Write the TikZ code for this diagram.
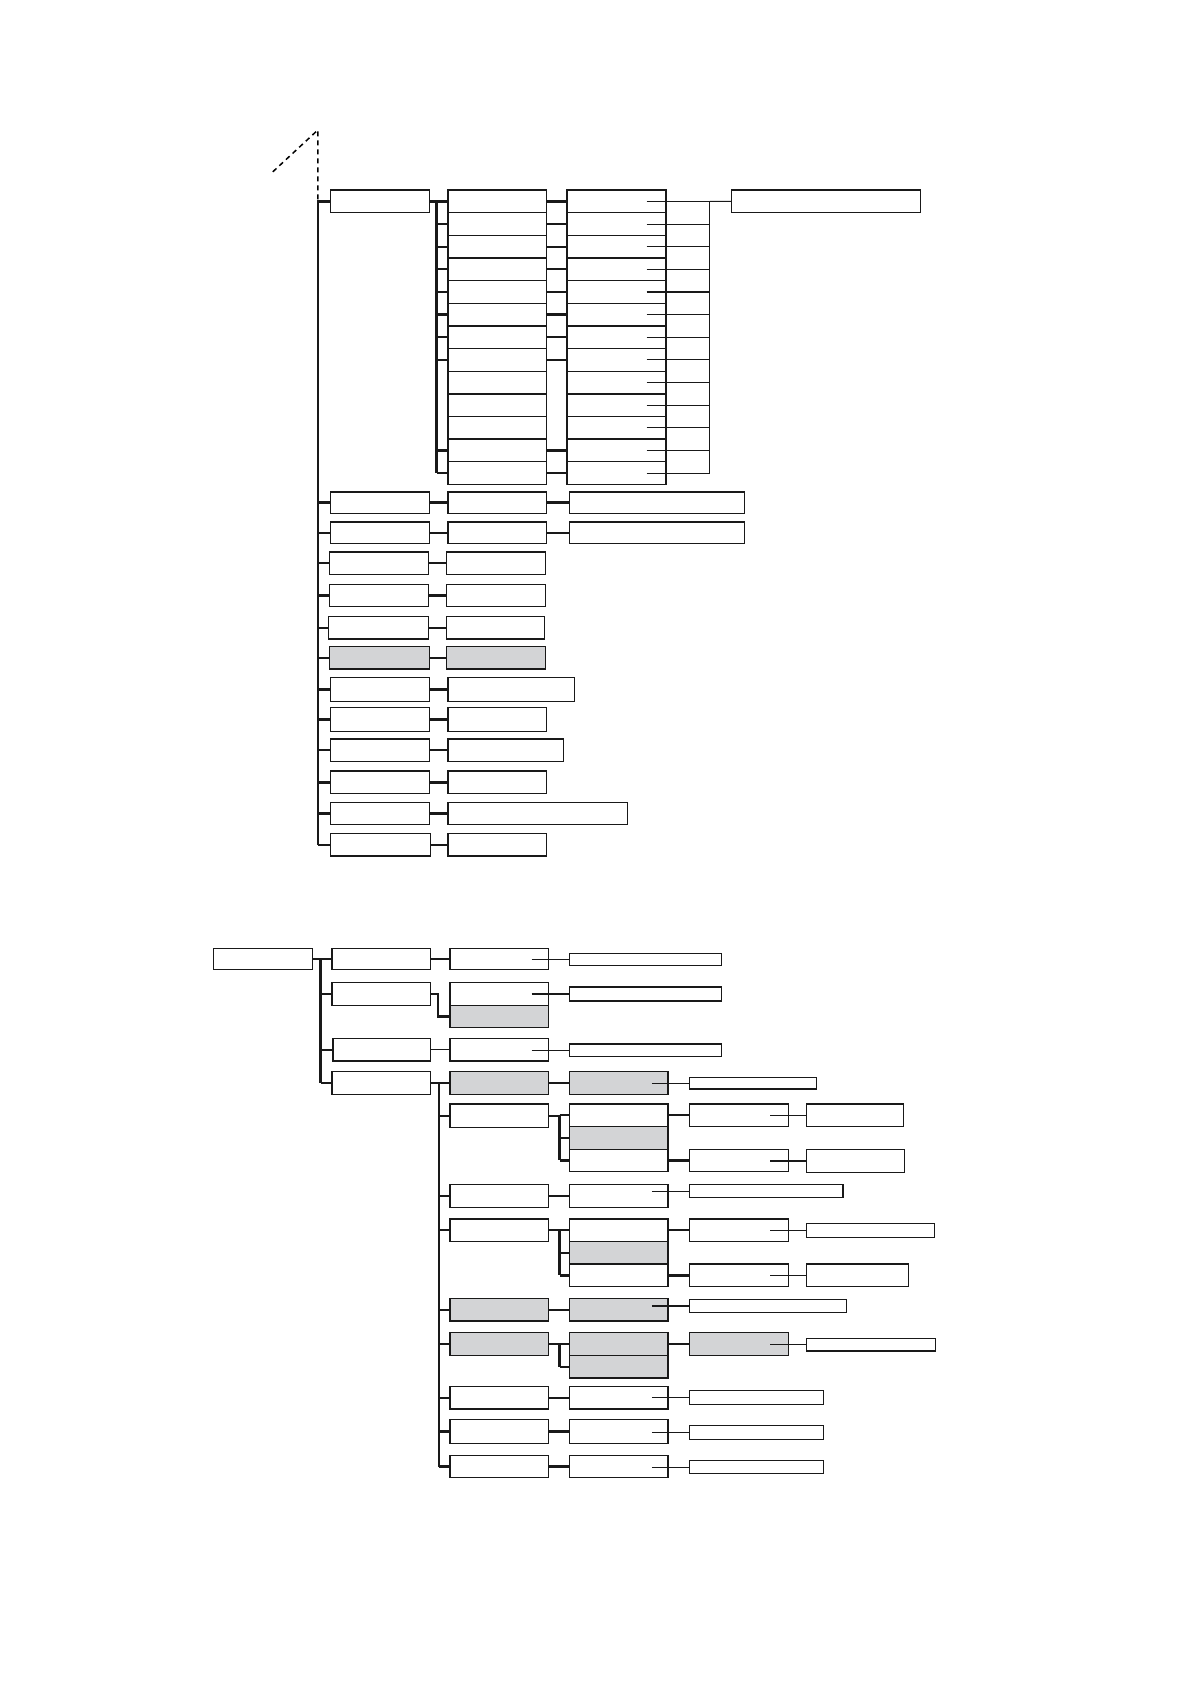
\documentclass[tikz,border=0pt]{standalone}
\usetikzlibrary{fit}
\definecolor{gfill}{RGB}{211,212,214}
\newcommand{\bx}[6][box]{\node[#1,fit={(#3,#4) (#5,#6)}] (#2) {};}
\begin{document}
\begin{tikzpicture}[x=1.074pt,y=-1.074pt,
 box/.style={draw=black!90,line width=1.3pt,inner sep=0pt,outer sep=0pt,fill=white},
 gbox/.style={box,fill=gfill},
 conn/.style={draw=black!90,line width=2.3pt},
 thinl/.style={draw=black!90,line width=1.1pt},
 dashline/.style={draw=black,line width=1.5pt,dash pattern=on 5pt off 4pt}]
\useasboundingbox[fill=white] (0,0) rectangle (1108,1568);

% ---------- top tree ----------
\bx{a1}{308}{177}{400}{198}
\foreach \i in {1,...,13}{
  \pgfmathsetmacro{\ta}{177+21.08*(\i-1)}
  \pgfmathsetmacro{\tb}{177+21.08*\i}
  \bx{c2r\i}{417}{\ta}{509}{\tb}
  \bx{c3r\i}{528}{\ta}{620}{\tb}
}
\bx{long}{681}{177}{857}{198}

\bx{ba1}{308}{458}{400}{478} \bx{bb1}{417}{458}{509}{478} \bx{bc1}{530}{458}{693}{478}
\bx{ba2}{308}{486}{400}{506} \bx{bb2}{417}{486}{509}{506} \bx{bc2}{530}{486}{693}{506}
\bx{ba3}{307}{514}{399}{535} \bx{bb3}{416}{514}{508}{535}
\bx{ba4}{307}{544}{399}{565} \bx{bb4}{416}{544}{508}{565}
\bx{ba5}{306}{574}{399}{595} \bx{bb5}{416}{574}{507}{595}
\bx[gbox]{ba6}{307}{602}{400}{623} \bx[gbox]{bb6}{416}{602}{508}{623}
\bx{ba7}{308}{631}{400}{653} \bx{bb7}{417}{631}{535}{653}
\bx{ba8}{308}{659}{400}{681} \bx{bb8}{417}{659}{509}{681}
\bx{ba9}{308}{688}{400}{709} \bx{bb9}{417}{688}{525}{709}
\bx{ba10}{308}{718}{400}{739} \bx{bb10}{417}{718}{509}{739}
\bx{ba11}{308}{747}{400}{768} \bx{bb11}{417}{747}{584}{768}
\bx{ba12}{308}{776}{401}{797} \bx{bb12}{417}{776}{509}{797}

\coordinate (ttop) at (296,121);
\coordinate (dd) at (254,160);
\coordinate (tk) at (296,186);
\draw[dashline] (dd) -- (ttop) -- (tk);
\draw[conn] (tk) -- (tk |- ba12.west);
\foreach \n in {a1,ba1,ba2,ba3,ba4,ba5,ba6,ba7,ba8,ba9,ba10,ba11,ba12}
  \draw[conn] (tk |- \n.west) -- (\n.west);
\foreach \r in {1,...,12}
  \draw[conn] (ba\r.east) -- (bb\r.west);
\draw[conn] (bb1.east) -- (bc1.west);
\draw[conn] (bb2.east) -- (bc2.west);

\coordinate (brA) at (406.5,0);
\draw[conn] (a1.east) -- (brA |- a1.east);
\draw[conn] (brA |- c2r1.west) -- (brA |- c2r13.west);
\foreach \i in {1,2,3,4,5,6,7,8,12,13}{
  \draw[conn] (brA |- c2r\i.west) -- (c2r\i.west);
  \draw[conn] (c2r\i.east) -- (c3r\i.west);
}
\coordinate (tin) at (602,0);
\coordinate (tv) at (661,0);
\foreach \i in {1,...,13}
  \draw[thinl] (tin |- c3r\i.center) -- (tv |- c3r\i.center);
\draw[thinl] (tv |- c3r1.center) -- (tv |- c3r13.center);
\draw[thinl] (tv |- c3r1.center) -- (long.west);

% ---------- bottom tree ----------
\bx{root}{199}{883}{291}{903}
\bx{ca1}{309}{883}{401}{903} \bx{cb1}{419}{883}{511}{903} \bx{cc1}{530}{888}{672}{899}
\bx{ca2}{309}{915}{401}{936} \bx{cb2}{419}{915}{511}{936} \bx[gbox]{cg2}{419}{936}{511}{957} \bx{cc2}{530}{919}{672}{932}
\bx{ca3}{310}{967}{401}{988} \bx{cb3}{419}{967}{511}{988} \bx{cc3}{530}{972}{672}{984}
\bx{ca4}{309}{998}{401}{1019}

\bx[gbox]{da1}{419}{998}{511}{1019} \bx[gbox]{db1}{530}{998}{622}{1019} \bx{dc1}{642}{1003}{760}{1014}
\bx{da2}{419}{1028}{511}{1050} \bx{db2}{530}{1028}{622}{1049} \bx[gbox]{dg2}{530}{1049}{622}{1070} \bx{dh2}{530}{1070}{622}{1091}
\bx{dc2}{642}{1028}{734}{1049} \bx{dd2}{751}{1028}{841}{1049}
\bx{de2}{642}{1070}{734}{1091} \bx{df2}{751}{1070}{842}{1092}
\bx{da3}{419}{1103}{511}{1124} \bx{db3}{530}{1103}{622}{1124} \bx{dc3}{642}{1103}{785}{1115}
\bx{da4}{419}{1135}{511}{1156} \bx{db4}{530}{1135}{622}{1156} \bx[gbox]{dg4}{530}{1156}{622}{1177} \bx{dh4}{530}{1177}{622}{1198}
\bx{dc4}{642}{1135}{734}{1156} \bx{dd4}{751}{1139}{870}{1152}
\bx{de4}{642}{1177}{734}{1198} \bx{df4}{751}{1177}{846}{1198}
\bx[gbox]{da5}{419}{1209}{511}{1230} \bx[gbox]{db5}{530}{1209}{622}{1230} \bx{dc5}{642}{1210}{788}{1222}
\bx[gbox]{da6}{419}{1241}{511}{1262} \bx[gbox]{db6}{530}{1241}{622}{1262} \bx[gbox]{dg6}{530}{1262}{622}{1283}
\bx[gbox]{dc6}{642}{1241}{734}{1262} \bx{dd6}{751}{1246}{871}{1258}
\bx{da7}{419}{1291}{511}{1312} \bx{db7}{530}{1291}{622}{1312} \bx{dc7}{642}{1295}{767}{1308}
\bx{da8}{419}{1322}{511}{1344} \bx{db8}{530}{1322}{622}{1344} \bx{dc8}{642}{1327}{767}{1340}
\bx{da9}{419}{1355}{511}{1376} \bx{db9}{530}{1355}{622}{1376} \bx{dc9}{642}{1360}{767}{1372}

\coordinate (brR) at (298.5,0);
\draw[conn] (root.east) -- (brR |- root.east);
\draw[conn] (brR |- root.east) -- (brR |- ca4.west);
\foreach \i in {1,2,3,4}
  \draw[conn] (brR |- ca\i.west) -- (ca\i.west);
\draw[conn] (ca1.east) -- (cb1.west);
\draw[thinl] (ca3.east) -- (cb3.west);
\coordinate (brC) at (408,0);
\draw[conn] (ca2.east) -- (brC |- ca2.east) -- (brC |- cg2.west) -- (cg2.west);
\coordinate (tinC) at (495,0);
\foreach \i in {1,2,3}
  \draw[thinl] (tinC |- cc\i.west) -- (cc\i.west);

\coordinate (brD) at (409,0);
\draw[conn] (ca4.east) -- (brD |- ca4.east);
\draw[conn] (brD |- da1.west) -- (brD |- da9.west);
\foreach \i in {1,...,9}
  \draw[conn] (brD |- da\i.west) -- (da\i.west);
\foreach \i in {1,3,5,7,8,9}
  \draw[conn] (da\i.east) -- (db\i.west);

\coordinate (brE) at (521,0);
\draw[conn] (da2.east) -- (brE |- da2.east);
\draw[conn] (brE |- db2.west) -- (brE |- dh2.west);
\foreach \n in {db2,dg2,dh2} \draw[conn] (brE |- \n.west) -- (\n.west);
\draw[conn] (da4.east) -- (brE |- da4.east);
\draw[conn] (brE |- db4.west) -- (brE |- dh4.west);
\foreach \n in {db4,dg4,dh4} \draw[conn] (brE |- \n.west) -- (\n.west);
\draw[conn] (da6.east) -- (brE |- da6.east);
\draw[conn] (brE |- db6.west) -- (brE |- dg6.west);
\foreach \n in {db6,dg6} \draw[conn] (brE |- \n.west) -- (\n.west);

\draw[conn] (db2.east) -- (dc2.west);
\draw[conn] (dh2.east) -- (de2.west);
\draw[conn] (db4.east) -- (dc4.west);
\draw[conn] (dh4.east) -- (de4.west);
\draw[conn] (db6.east) -- (dc6.west);

\coordinate (tinE) at (717,0);
\foreach \n in {dd2,df2,dd4,df4,dd6}
  \draw[thinl] (tinE |- \n.west) -- (\n.west);
\coordinate (tinD) at (607,0);
\foreach \n in {dc1,dc3,dc5,dc7,dc8,dc9}
  \draw[thinl] (tinD |- \n.west) -- (\n.west);
\end{tikzpicture}
\end{document}
